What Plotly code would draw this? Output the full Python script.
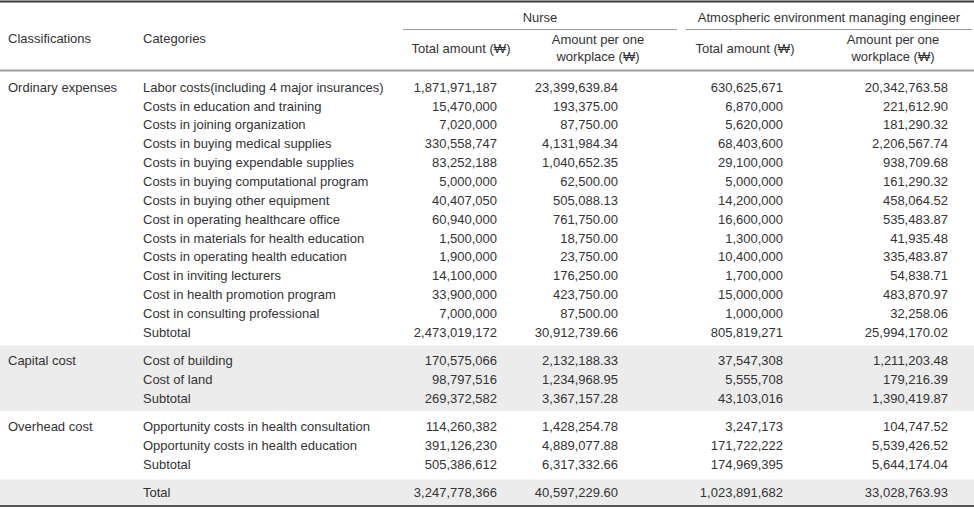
import plotly.graph_objects as go

# ---------------- data ----------------
group_names = ["Ordinary expenses", "Capital cost", "Overhead cost", ""]
categories = [
    "Labor costs(including 4 major insurances)",
    "Costs in education and training",
    "Costs in joining organization",
    "Costs in buying medical supplies",
    "Costs in buying expendable supplies",
    "Costs in buying computational program",
    "Costs in buying other equipment",
    "Cost in operating healthcare office",
    "Costs in materials for health education",
    "Costs in operating health education",
    "Cost in inviting lecturers",
    "Cost in health promotion program",
    "Cost in consulting professional",
    "Subtotal",
    "Cost of building",
    "Cost of land",
    "Subtotal",
    "Opportunity costs in health consultation",
    "Opportunity costs in health education",
    "Subtotal",
    "Total",
]
row_group = [0] * 14 + [1] * 3 + [2] * 3 + [3]

nurse_total = [1871971187, 15470000, 7020000, 330558747, 83252188, 5000000,
               40407050, 60940000, 1500000, 1900000, 14100000, 33900000,
               7000000, 2473019172,
               170575066, 98797516, 269372582,
               114260382, 391126230, 505386612,
               3247778366]
nurse_per = [23399639.84, 193375.00, 87750.00, 4131984.34, 1040652.35, 62500.00,
             505088.13, 761750.00, 18750.00, 23750.00, 176250.00, 423750.00,
             87500.00, 30912739.66,
             2132188.33, 1234968.95, 3367157.28,
             1428254.78, 4889077.88, 6317332.66,
             40597229.60]
eng_total = [630625671, 6870000, 5620000, 68403600, 29100000, 5000000,
             14200000, 16600000, 1300000, 10400000, 1700000, 15000000,
             1000000, 805819271,
             37547308, 5555708, 43103016,
             3247173, 171722222, 174969395,
             1023891682]
eng_per = [20342763.58, 221612.90, 181290.32, 2206567.74, 938709.68, 161290.32,
           458064.52, 535483.87, 41935.48, 335483.87, 54838.71, 483870.97,
           32258.06, 25994170.02,
           1211203.48, 179216.39, 1390419.87,
           104747.52, 5539426.52, 5644174.04,
           33028763.93]

header_left = ["Classifications", "Categories"]
header_groups = ["Nurse", "Atmospheric environment managing engineer"]
header_sub = ["Total amount (₩)", "Amount per one<br>workplace (₩)",
              "Total amount (₩)", "Amount per one<br>workplace (₩)"]

# ---------------- layout constants ----------------
W, H = 974, 510
FONT = "Liberation Sans"
FS = 13
TXT = "#333333"
Y0, STEP, GAP = 87, 18.85, 9.5
TOFF = 1.5  # text baseline correction
ys = [Y0 + i * STEP + g * GAP for i, g in enumerate(row_group)]
yt = [y + TOFF for y in ys]

x_class, x_cat = 8, 143
num_right = [497, 618, 783, 948]
sub_center = [461, 598, 745, 893]
grp_span = [(403, 677), (686, 972)]

fig = go.Figure()

def add_text(xs, yv, texts, pos, size=FS):
    fig.add_trace(go.Scatter(
        x=xs, y=yv, text=texts, mode="text", textposition=pos,
        textfont=dict(family=FONT, size=size, color=TXT),
        hoverinfo="skip", showlegend=False, cliponaxis=False))

# group labels (first row of each group)
first_rows = [row_group.index(g) for g in range(len(group_names))]
add_text([x_class] * len(first_rows), [yt[r] for r in first_rows],
         group_names, "middle right")
# categories
add_text([x_cat] * len(categories), yt, categories, "middle right")
# numbers
cols = [
    [f"{v:,}" for v in nurse_total],
    [f"{v:,.2f}" for v in nurse_per],
    [f"{v:,}" for v in eng_total],
    [f"{v:,.2f}" for v in eng_per],
]
for xr, col in zip(num_right, cols):
    add_text([xr] * len(col), yt, col, "middle left")

# headers
add_text([x_class, x_cat], [38 + TOFF] * 2, header_left, "middle right")
add_text([(a + b) / 2 for a, b in grp_span], [17 + TOFF] * 2, header_groups, "middle center")
add_text(sub_center, [48 + TOFF] * 4, header_sub, "middle center")

shapes = []
# shaded bands: capital group and total row
for g in (1, 3):
    rows = [i for i, rg in enumerate(row_group) if rg == g]
    top = ys[rows[0]] - (15 if g == 1 else 13)
    bot = ys[rows[-1]] + 13
    shapes.append(dict(type="rect", xref="x", yref="y", x0=0, x1=W, y0=top, y1=bot,
                       fillcolor="#ececec", line=dict(width=0), layer="below"))
# rules
shapes.append(dict(type="line", xref="x", yref="y", x0=0, x1=W, y0=1.5, y1=1.5,
                   line=dict(color="#3a3a3a", width=2)))
for a, b in grp_span:
    shapes.append(dict(type="line", xref="x", yref="y", x0=a, x1=b, y0=29.5, y1=29.5,
                       line=dict(color="#9a9a9a", width=1.2)))
shapes.append(dict(type="line", xref="x", yref="y", x0=0, x1=W, y0=70.5, y1=70.5,
                   line=dict(color="#a0a0a0", width=2)))
shapes.append(dict(type="line", xref="x", yref="y", x0=0, x1=W, y0=506, y1=506,
                   line=dict(color="#555555", width=2)))

fig.update_layout(
    width=W, height=H, margin=dict(l=0, r=0, t=0, b=0),
    paper_bgcolor="white", plot_bgcolor="white",
    xaxis=dict(range=[0, W], visible=False, fixedrange=True),
    yaxis=dict(range=[H, 0], visible=False, fixedrange=True),
    shapes=shapes,
)
fig.write_html("out.html", config={"displayModeBar": False},
               post_script="document.body.style.margin='0';document.body.style.overflow='hidden';")
